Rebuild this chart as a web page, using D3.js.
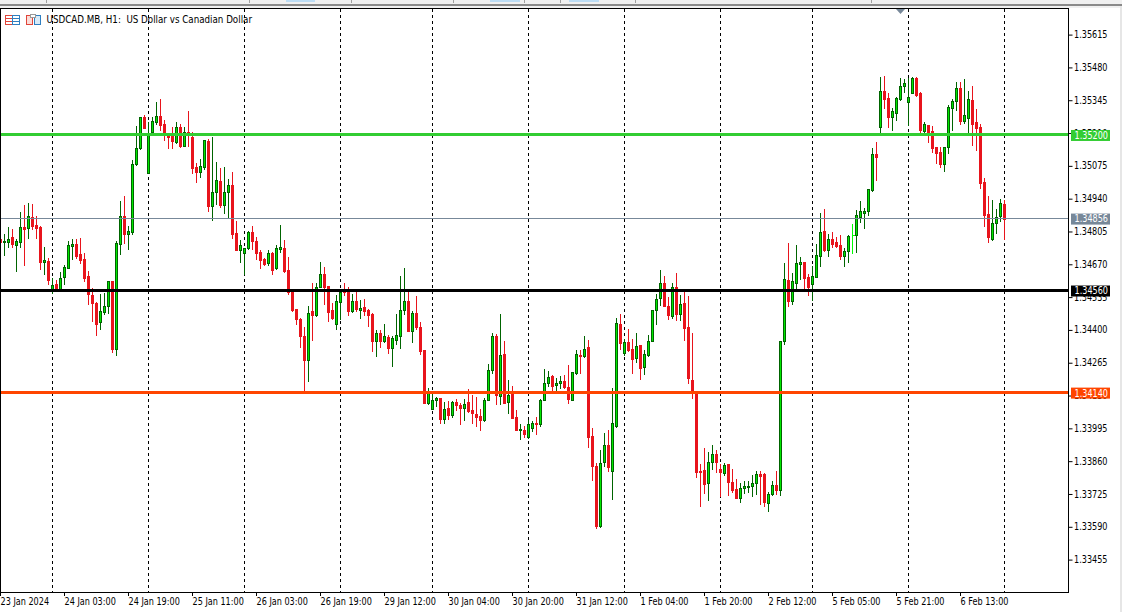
<!DOCTYPE html>
<html><head><meta charset="utf-8">
<script src="https://cdn.jsdelivr.net/npm/d3@7"></script>
<style>
html,body{margin:0;padding:0;background:#fff;overflow:hidden}
text{font-family:"DejaVu Sans",sans-serif;font-size:9.6px;fill:#000;white-space:pre}
</style></head><body><div id="chart"></div>
<script>
// Prices are in broker points (price x 100000), one value per H1 bar
const highs=[134776,134794,134823,134815,134776,134885,134914,134921,134918,134868,
134827,134742,134695,134612,134605,134638,134667,134765,134776,134774,
134778,134716,134641,134571,134514,134546,134550,134600,134600,134765,
134930,134951,134827,135099,135239,135277,135283,135255,135275,135336,
135350,135262,135211,135236,135255,135247,135235,135301,135214,135085,
135102,135181,135184,135195,135091,135065,135070,135021,135049,134848,
134770,134735,134805,134827,134782,134728,134694,134728,134720,134749,
134831,134770,134700,134557,134488,134449,134410,134498,134593,134593,
134679,134659,134580,134509,134543,134561,134593,134576,134547,134557,
134523,134527,134486,134468,134398,134399,134424,134379,134375,134465,
134622,134654,134557,134476,134539,134432,134316,134159,134144,134123,
134119,134103,134106,134106,134115,134099,134114,134156,134132,134123,
134073,134118,134259,134386,134383,134465,134354,134193,134169,134070,
134012,134004,134029,134024,134041,134115,134238,134229,134215,134201,
134210,134214,134255,134226,134317,134317,134374,134358,133998,133851,
133905,133975,133987,134160,134451,134465,134362,134403,134362,134387,
134337,134317,134378,134481,134547,134646,134621,134535,134595,134633,
134543,134570,134539,134387,134148,133847,133913,133897,133926,133905,
133847,133851,133847,133829,133786,133769,133777,133777,133802,133819,
133819,133810,133732,133777,133819,134354,134675,134757,134633,134749,
134701,134679,134629,134662,134753,134880,134897,134794,134802,134782,
134790,134736,134790,134835,134893,134930,134901,134979,135148,135173,
135440,135444,135374,135313,135358,135436,135432,135436,135440,135440,
135378,135255,135243,135239,135152,135152,135152,135325,135350,135420,
135420,135432,135383,135403,135308,135247,135024,134950,134934,134897,
134938,134934];
const lows=[134763,134708,134742,134742,134643,134742,134668,134779,134815,134779,
134652,134630,134590,134553,134564,134564,134590,134656,134693,134697,
134676,134602,134508,134438,134379,134405,134466,134470,134309,134296,
134713,134757,134734,134796,135080,135144,135232,135044,135215,135247,
135222,135181,135150,135150,135167,135154,135157,135158,135047,135010,
135030,135063,134890,134853,134918,134907,134881,134866,134779,134728,
134680,134628,134734,134734,134693,134656,134667,134668,134631,134652,
134722,134639,134549,134479,134425,134331,134143,134191,134358,134458,
134575,134506,134438,134443,134405,134445,134543,134461,134472,134479,
134449,134461,134416,134314,134292,134329,134350,134305,134251,134342,
134325,134464,134397,134350,134405,134302,134099,134095,134074,134086,
134018,134016,134033,134043,134070,134012,134029,134063,134019,134003,
133989,134026,134110,134224,134095,134095,134100,134059,134037,133989,
133952,133960,133957,133983,133971,134004,134112,134168,134152,134152,
134160,134162,134098,134111,134218,134222,134289,133917,133782,133587,
133589,133839,133821,133703,134001,134321,134297,134314,134223,134269,
134199,134219,134293,134354,134424,134502,134498,134444,134448,134440,
134440,134358,134181,134119,133794,133674,133728,133699,133827,133814,
133716,133802,133720,133733,133707,133691,133728,133732,133716,133724,
133683,133674,133654,133720,133724,133720,134341,134498,134506,134563,
134609,134563,134543,134522,134617,134662,134724,134703,134740,134740,
134691,134662,134679,134716,134720,134843,134819,134872,134971,135016,
135201,135313,135236,135222,135263,135346,135378,135243,135374,135362,
135206,135201,135173,135131,135086,135070,135053,135127,135222,135304,
135247,135251,135210,135160,135140,134983,134827,134761,134769,134798,
134848,134775];
const opens=[134776,134763,134763,134782,134750,134763,134822,134818,134863,134831,
134823,134680,134682,134564,134589,134567,134616,134656,134746,134752,
134711,134690,134620,134542,134509,134433,134475,134499,134600,134322,
134752,134867,134793,134804,135081,135150,135276,135044,135215,135257,
135280,135247,135209,135209,135174,135233,135158,135213,135195,135070,
135051,135070,135177,134908,134966,135011,134915,134966,134995,134797,
134730,134717,134735,134801,134764,134719,134691,134674,134718,134653,
134734,134735,134645,134557,134484,134445,134373,134278,134476,134462,
134576,134628,134580,134482,134425,134516,134567,134563,134479,134521,
134483,134493,134482,134464,134355,134387,134355,134370,134327,134359,
134376,134483,134517,134397,134468,134412,134316,134100,134075,134112,
134118,134034,134077,134051,134103,134091,134080,134102,134069,134056,
134044,134030,134110,134236,134373,134130,134299,134104,134136,134040,
133989,133990,133960,133997,134016,134013,134112,134183,134212,134174,
134182,134188,134167,134112,134223,134296,134293,134328,133965,133839,
133594,133856,133926,133820,134004,134426,134306,134352,134323,134285,
134337,134248,134297,134356,134480,134532,134591,134500,134459,134575,
134466,134509,134410,134192,134138,133819,133823,133770,133857,133889,
133829,133810,133847,133773,133744,133709,133749,133753,133757,133769,
133806,133806,133687,133724,133761,133740,134354,134605,134518,134592,
134670,134679,134617,134588,134618,134703,134805,134728,134773,134761,
134749,134703,134724,134788,134790,134864,134880,134889,134975,135123,
135234,135383,135354,135276,135292,135350,135403,135337,135374,135436,
135374,135218,135243,135218,135152,135131,135082,135152,135313,135341,
135395,135259,135271,135346,135255,135234,135008,134876,134773,134838,
134868,134917];
const closes=[134763,134765,134776,134755,134764,134822,134816,134867,134829,134820,
134680,134686,134606,134583,134564,134612,134657,134748,134753,134705,
134689,134615,134546,134512,134425,134476,134497,134600,134322,134756,
134867,134796,134805,135081,135147,135275,135232,135202,135258,135279,
135243,135206,135194,135177,135233,135158,135213,135200,135067,135051,
135073,135180,134911,134966,135015,134915,134966,134995,134796,134730,
134748,134735,134801,134767,134717,134689,134672,134715,134648,134735,
134740,134643,134554,134483,134446,134376,134277,134468,134462,134575,
134632,134575,134475,134450,134521,134557,134557,134479,134521,134486,
134490,134479,134461,134355,134386,134355,134377,134327,134365,134381,
134480,134521,134397,134468,134413,134314,134100,134144,134110,134119,
134034,134073,134051,134102,134092,134080,134097,134066,134059,134043,
134030,134110,134237,134373,134133,134295,134100,134134,134038,133989,
133992,133973,134011,134019,134013,134113,134183,134208,134168,134181,
134188,134166,134116,134225,134299,134293,134323,133960,133840,133592,
133854,133928,133836,134015,134430,134347,134352,134317,134281,134332,
134242,134299,134356,134480,134529,134591,134500,134461,134575,134465,
134505,134408,134203,134148,133816,133814,133766,133858,133889,133856,
133814,133846,133775,133740,133707,133751,133757,133757,133769,133806,
133798,133691,133724,133761,133740,134354,134609,134518,134601,134675,
134679,134613,134576,134621,134708,134802,134727,134773,134753,134745,
134703,134724,134786,134788,134872,134889,134889,134979,135123,135111,
135383,135350,135276,135300,135354,135403,135415,135358,135436,135366,
135222,135247,135214,135148,135127,135082,135152,135317,135341,135395,
135259,135284,135350,135247,135230,135004,134872,134782,134839,134864,
134922,134856];

const priceTicks=[135615,135480,135345,135210,135075,134940,134805,134670,134535,134400,134265,134130,133995,133860,133725,133590,133455];
const timeBars=[0,16,32,48,64,80,96,112,128,144,160,176,192,208,224,240];
const timeLabels=["23 Jan 2024","24 Jan 03:00","24 Jan 19:00","25 Jan 11:00","26 Jan 03:00","26 Jan 19:00","29 Jan 12:00","30 Jan 04:00","30 Jan 20:00","31 Jan 12:00","1 Feb 04:00","1 Feb 20:00","2 Feb 12:00","5 Feb 05:00","5 Feb 21:00","6 Feb 13:00"];
const daySeparators=[13,37,61,85,108,132,156,180,203,227,251];
const levelPrices=[135200,134560,134140];
const levelColors=["#32cd32","#000000","#ff4500"];
const lastPrice=134856;
const title="USDCAD.MB, H1:  US Dollar vs Canadian Dollar";
const topTabs=[[286,315],[490,520],[569,599]];
const topSeps=[46,249,351,453,524,560,635,871];

const W=1122,H=612,L=1,R=1068.5,T=8.5,B=592;
const svg=d3.select("#chart").append("svg").attr("width",W).attr("height",H).style("display","block");
const x=d3.scaleLinear().domain([0,251]).range([0.5,1004.5]);
const y=d3.scaleLinear().domain([135615,133455]).range([34.6,559.6]);
const fmt=d=>(d/100000).toFixed(5);
// narrower letterforms, like the terminal's bitmap UI font
const squeeze=(sel,k)=>sel.each(function(){this.setAttribute("textLength",(this.getComputedTextLength()*k).toFixed(1));this.setAttribute("lengthAdjust","spacingAndGlyphs");});

// window chrome
svg.append("rect").attr("width",W).attr("height",4).attr("fill","#f0f0f0");
svg.append("rect").attr("y",4).attr("width",W).attr("height",2).attr("fill","#8a8a8a");
svg.append("rect").attr("y",6).attr("width",W).attr("height",2).attr("fill","#f0f0f0");
svg.append("rect").attr("x",W-2).attr("y",6).attr("width",2).attr("height",H).attr("fill","#e6e6e6");
svg.selectAll(".tab").data(topTabs).join("rect").attr("x",d=>d[0]).attr("width",d=>d[1]-d[0]).attr("height",2).attr("fill","#bcdcf4").attr("stroke","none");
svg.selectAll(".sep").data(topSeps).join("rect").attr("x",d=>d).attr("width",1).attr("height",3).attr("fill","#a0a0a0");

const plot=svg.append("g").style("shape-rendering","crispEdges");
// day separators
plot.selectAll(".day").data(daySeparators).join("line")
 .attr("x1",d=>x(d)).attr("x2",d=>x(d)).attr("y1",T).attr("y2",B)
 .attr("stroke","#000").attr("stroke-dasharray","3,3");

// candles
const bars=d3.range(highs.length);
const up=i=>closes[i]>=opens[i];
const wick=i=>closes[i]===opens[i]?"#00ff00":up(i)?"#006400":"#e8141c";
const g=plot.append("g");
g.selectAll(".w").data(bars).join("line")
 .attr("x1",x).attr("x2",x).attr("y1",i=>y(highs[i])).attr("y2",i=>y(lows[i])+1).attr("stroke",wick);
g.selectAll(".b").data(bars.filter(i=>closes[i]!==opens[i])).join("rect")
 .attr("x",i=>x(i)-1).attr("width",2)
 .attr("y",i=>Math.round(y(Math.max(opens[i],closes[i])))+.5)
 .attr("height",i=>Math.max(1,Math.round(y(Math.min(opens[i],closes[i])))-Math.round(y(Math.max(opens[i],closes[i])))))
 .attr("fill",i=>up(i)?"#00e800":"#e8141c").attr("stroke",i=>up(i)?"#006400":"#e8141c");
g.selectAll(".d").data(bars.filter(i=>closes[i]===opens[i])).join("line")
 .attr("x1",i=>x(i)-1).attr("x2",i=>x(i)+2).attr("y1",i=>y(closes[i])).attr("y2",i=>y(closes[i])).attr("stroke",wick);

// last price line and levels
plot.append("line").attr("x1",L).attr("x2",R).attr("y1",Math.round(y(lastPrice))-.5).attr("y2",Math.round(y(lastPrice))-.5).attr("stroke","#778899");
plot.selectAll(".lvl").data(levelPrices).join("rect")
 .attr("x",L).attr("width",R-L).attr("y",d=>Math.round(y(d))-2).attr("height",3).attr("fill",(d,i)=>levelColors[i]);

// axes
const ay=d3.axisRight(y).tickValues(priceTicks).tickSize(4).tickPadding(1.5).tickFormat(fmt);
svg.append("g").attr("transform",`translate(${R},0)`).call(ay).call(s=>{s.select(".domain").remove();s.selectAll("text").attr("font-size",null).attr("font-family",null).call(squeeze,.845)});
const ax=d3.axisBottom(x).tickValues(timeBars).tickSize(4).tickFormat((d,i)=>timeLabels[i]);
svg.append("g").attr("transform",`translate(-0.5,${B})`).call(ax).call(s=>{s.select(".domain").remove();s.selectAll("text").attr("font-size",null).attr("font-family",null).attr("text-anchor","start").attr("y",5).attr("dy","0.82em").call(squeeze,.845)});

// frame
svg.append("path").attr("d",`M0.5,${B}V${T}H${R}V${B}H0.5`).attr("fill","none").attr("stroke","#000").style("shape-rendering","crispEdges");

// price tags
const tags=[...levelPrices.map((p,i)=>({p,c:levelColors[i]})),{p:lastPrice,c:"#778899"}];
const tg=svg.selectAll(".tag").data(tags).join("g");
tg.append("rect").attr("x",1071).attr("width",39).attr("y",d=>y(d.p)-5.5).attr("height",11).attr("fill",d=>d.c);
tg.append("text").attr("x",1074.5).attr("y",d=>y(d.p)+3.4).style("fill","#fff").text(d=>fmt(d.p)).call(squeeze,.845);

// title with icons
svg.append("text").attr("x",46.5).attr("y",23).text(title).call(squeeze,.91);
const ic=svg.append("g").attr("fill","none").style("shape-rendering","crispEdges");
ic.append("rect").attr("x",5.5).attr("y",15.5).attr("width",7).attr("height",9).attr("stroke","#e0453a");
ic.append("rect").attr("x",12.5).attr("y",15.5).attr("width",7).attr("height",9).attr("stroke","#2f7fc1");
[18.5,21.5].forEach(v=>{ic.append("line").attr("x1",6).attr("x2",12).attr("y1",v).attr("y2",v).attr("stroke","#e0453a");ic.append("line").attr("x1",13).attr("x2",19).attr("y1",v).attr("y2",v).attr("stroke","#2f7fc1");});
ic.append("rect").attr("x",26.5).attr("y",15.5).attr("width",6).attr("height",9).attr("stroke","#e0453a").attr("fill","#fbdcd8");
ic.append("rect").attr("x",34.5).attr("y",15.5).attr("width",6).attr("height",9).attr("stroke","#2f7fc1").attr("fill","#d8ebf8");
ic.append("rect").attr("x",30.5).attr("y",14.5).attr("width",5).attr("height",3).attr("stroke","#999").attr("fill","#fff");

// scroll marker
svg.append("path").attr("d",d3.line()([[896,9],[905,9],[900.5,14]])).attr("fill","#778899");
</script></body></html>
